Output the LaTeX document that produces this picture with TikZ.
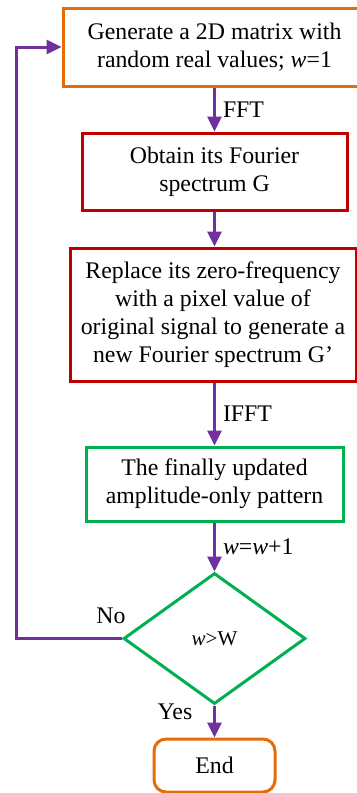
\documentclass[tikz,border=0pt]{standalone}
\usepackage{fontspec}
\setmainfont{Liberation Serif}
\usetikzlibrary{shapes.geometric,arrows.meta}
\definecolor{boxorange}{HTML}{E46C0A}
\definecolor{boxred}{HTML}{C00000}
\definecolor{boxgreen}{HTML}{00B050}
\definecolor{flowpurple}{HTML}{7030A0}

\begin{document}
\begin{tikzpicture}[x=0.5pt, y=-0.5pt,
  stepbox/.style={draw, line width=1.5pt, fill=white, align=center, inner sep=0pt, font=\fontsize{11.9}{14}\selectfont},
  flow/.style={draw=flowpurple, line width=1.5pt, -{Triangle[length=7.5pt,width=7pt]}},
  flowtext/.style={font=\fontsize{11.9}{14}\selectfont, inner sep=0pt}]
\useasboundingbox (0,0) rectangle (357,793);
\node[stepbox, draw=boxorange, minimum width=151.5pt, minimum height=39pt] (G1Ngen) at (214.5,47) {Generate a 2D matrix with\\random real values; \textit{w}=1};
\node[stepbox, draw=boxred, minimum width=132.5pt, minimum height=38.5pt] (G1Nspec) at (214.5,171.5) {Obtain its Fourier\\spectrum G};
\node[stepbox, draw=boxred, minimum width=143pt, minimum height=66.5pt] (G1Nrepl) at (213,314.5) {Replace its zero-frequency\\with a pixel value of\\original signal to generate a\\new Fourier spectrum G’};
\node[stepbox, draw=boxgreen, minimum width=128.5pt, minimum height=37pt] (G1Namp) at (214.5,484) {The finally updated\\amplitude-only pattern};
\node[stepbox, draw=boxgreen, diamond, minimum width=91pt, minimum height=65.5pt, font=\fontsize{10.5}{12}\selectfont] (G1Ntest) at (214.5,638.5) {\textit{w}>W};
\node[stepbox, draw=boxorange, rounded corners=6pt, minimum width=60.5pt, minimum height=26.5pt] (G1Nend) at (214.5,765.5) {End};
\coordinate (G1Nback) at (16,47);
\draw[flow] (G1Ngen) -- (G1Nspec) node[flowtext, midway, right=3.5pt] (G1Lfft) {FFT};
\draw[flow] (G1Nspec) -- (G1Nspec |- G1Nrepl.north);
\draw[flow] (G1Nrepl.south -| G1Namp) -- (G1Namp) node[flowtext, midway, right=3.5pt] (G1Lifft) {IFFT};
\draw[flow] (G1Namp) -- (G1Ntest) node[flowtext, midway, right=3.5pt] (G1Linc) {\textit{w}=\textit{w}+1};
\draw[flow] (G1Ntest) -- (G1Nend);
\draw[flow] (G1Ntest.west) -- (G1Ntest.west -| G1Nback) -- (G1Nback) -- (G1Ngen.west);
\node[flowtext] (G1Lno) at (111,616) {No};
\node[flowtext] (G1Lyes) at (175,712) {Yes};
\end{tikzpicture}
\end{document}
